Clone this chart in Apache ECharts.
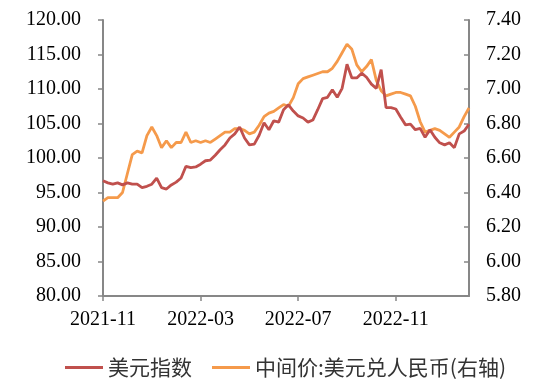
<!DOCTYPE html>
<html>
<head>
<meta charset="utf-8">
<script src="https://cdn.jsdelivr.net/npm/echarts@6/dist/echarts.min.js"></script>
<style>html,body{margin:0;padding:0;background:#fff}#c{width:550px;height:390px}</style>
</head>
<body>
<div id="c"></div>
<script>
var dates = [
'2021-11-01','2021-11-07','2021-11-13','2021-11-19','2021-11-25',
'2021-12-01','2021-12-07','2021-12-13','2021-12-19','2021-12-25',
'2022-01-01','2022-01-07','2022-01-13','2022-01-19','2022-01-25',
'2022-02-01','2022-02-07','2022-02-13','2022-02-19','2022-02-25',
'2022-03-01','2022-03-07','2022-03-13','2022-03-19','2022-03-25',
'2022-04-01','2022-04-07','2022-04-13','2022-04-19','2022-04-25',
'2022-05-01','2022-05-07','2022-05-13','2022-05-19','2022-05-25',
'2022-06-01','2022-06-07','2022-06-13','2022-06-19','2022-06-25',
'2022-07-01','2022-07-07','2022-07-13','2022-07-19','2022-07-25',
'2022-08-01','2022-08-07','2022-08-13','2022-08-19','2022-08-25',
'2022-09-01','2022-09-07','2022-09-13','2022-09-19','2022-09-25',
'2022-10-01','2022-10-07','2022-10-13','2022-10-19','2022-10-25',
'2022-11-01','2022-11-07','2022-11-13','2022-11-19','2022-11-25',
'2022-12-01','2022-12-07','2022-12-13','2022-12-19','2022-12-25',
'2023-01-01','2023-01-07','2023-01-13','2023-01-19','2023-01-25',
'2023-01-31'
];
var usdIndex = [
96.7,96.4,96.2,96.4,96.1,96.4,96.2,96.2,95.7,95.9,
96.2,97.1,95.7,95.5,96.1,96.5,97.1,98.8,98.6,98.7,
99.1,99.6,99.7,100.4,101.2,101.9,102.9,103.5,104.5,102.9,
101.9,102.0,103.3,105.1,104.1,105.4,105.2,107.0,107.7,106.8,
106.1,105.8,105.2,105.5,107.0,108.6,108.8,109.9,108.8,110.1,
113.6,111.6,111.6,112.3,111.7,110.7,110.1,112.8,107.3,107.3,
107.1,105.9,104.8,104.9,104.1,104.3,103.0,104.1,103.0,102.2,
101.9,102.2,101.5,103.5,103.9,104.9
];
var usdCny = [
6.35,6.37,6.37,6.37,6.40,6.51,6.62,6.64,6.63,6.73,
6.78,6.73,6.66,6.70,6.66,6.69,6.69,6.75,6.69,6.70,
6.69,6.70,6.69,6.71,6.73,6.75,6.75,6.77,6.77,6.76,
6.74,6.75,6.79,6.84,6.86,6.87,6.89,6.91,6.90,6.95,
7.03,7.06,7.07,7.08,7.09,7.10,7.10,7.12,7.16,7.21,
7.26,7.23,7.14,7.10,7.13,7.17,7.05,6.99,6.96,6.97,
6.98,6.98,6.97,6.96,6.90,6.81,6.75,6.76,6.77,6.76,
6.74,6.72,6.75,6.78,6.84,6.89
];
var xTickLabels = ['2021-11','2022-03','2022-07','2022-11'];
var seriesNames = ['美元指数','中间价:美元兑人民币(右轴)'];

function monthIndex(s){
  var p = s.split('-');
  return (+p[0]-2021)*12 + (+p[1]-11) + (+p[2]-1)/30;
}
var xTickValues = xTickLabels.map(function(l){ return monthIndex(l+'-01'); });

var serif = '"Liberation Serif","Times New Roman",serif';
var axisColor = '#878787';
var chart = echarts.init(document.getElementById('c'), null, {renderer:'canvas'});
chart.setOption({
  animation:false,
  backgroundColor:'#ffffff',
  grid:{left:103, right:81, top:20, bottom:94, containLabel:false},
  legend:{
    left:60, top:352, itemWidth:38, itemHeight:3, itemGap:20, icon:'rect',
    textStyle:{fontFamily:'"Noto Sans CJK SC",sans-serif', fontSize:21, color:'#333'},
    data:seriesNames
  },
  xAxis:{
    type:'value', min:0, max:15,
    axisLine:{show:true, lineStyle:{color:axisColor, width:2}},
    axisTick:{show:true, length:5, lineStyle:{color:axisColor, width:1.5}, customValues:xTickValues},
    axisLabel:{customValues:xTickValues, margin:14, color:'#000', fontFamily:serif, fontSize:20,
      formatter:function(v){ var i = xTickValues.indexOf(v); return i>=0 ? xTickLabels[i] : ''; }},
    splitLine:{show:false}
  },
  yAxis:[
    {type:'value', min:80, max:120, interval:5,
     axisLine:{show:true, lineStyle:{color:axisColor, width:2}},
     axisTick:{show:true, length:5, lineStyle:{color:axisColor, width:1.5}},
     axisLabel:{margin:22, color:'#000', fontFamily:serif, fontSize:20, formatter:function(v){return v.toFixed(2);}},
     splitLine:{show:false}},
    {type:'value', min:5.8, max:7.4, interval:0.2, position:'right',
     axisLine:{show:true, lineStyle:{color:axisColor, width:2}},
     axisTick:{show:true, inside:true, length:5, lineStyle:{color:axisColor, width:1.5}},
     axisLabel:{margin:17, color:'#000', fontFamily:serif, fontSize:20, formatter:function(v){return v.toFixed(2);}},
     splitLine:{show:false}}
  ],
  series:[
    {name:seriesNames[0], type:'line', yAxisIndex:0, showSymbol:false, z:3,
     lineStyle:{color:'#C0504D', width:2.8}, itemStyle:{color:'#C0504D'},
     data:dates.map(function(d,i){return [monthIndex(d), usdIndex[i]];})},
    {name:seriesNames[1], type:'line', yAxisIndex:1, showSymbol:false, z:2,
     lineStyle:{color:'#F59A4B', width:2.8}, itemStyle:{color:'#F59A4B'},
     data:dates.map(function(d,i){return [monthIndex(d), usdCny[i]];})}
  ]
});
</script>
</body>
</html>
